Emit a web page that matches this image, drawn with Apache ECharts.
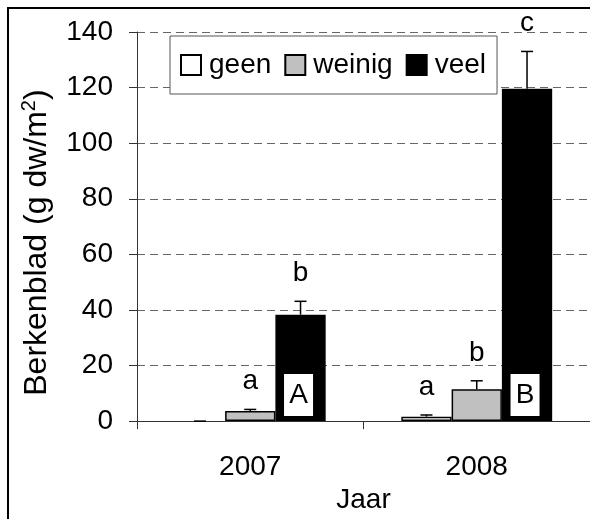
<!DOCTYPE html>
<html>
<head>
<meta charset="utf-8">
<script src="https://cdn.jsdelivr.net/npm/echarts@6/dist/echarts.min.js"></script>
<style>
  html, body { margin: 0; padding: 0; background: #fff; }
  #chart { width: 590px; height: 519px; }
</style>
</head>
<body>
<div id="chart"></div>
<script>
// data
const years = ['2007', '2008'];
const seriesNames = ['geen', 'weinig', 'veel'];
const geen = [0, 1.6];
const weinig = [3.6, 11.5];
const veel = [38.3, 119.6];
const geenErr = [0, 0.6];
const weinigErr = [0.6, 3.0];
const veelErr = [4.8, 13.4];
const geenLetters = ['', 'a'];
const weinigLetters = ['a', 'b'];
const veelLetters = ['b', 'c'];
const yearLetters = ['A', 'B'];
const yTicks = [0, 20, 40, 60, 80, 100, 120, 140];

const FONT = 'Liberation Sans';
const FS = 28;
const BAR_FRAC = 0.222;

const values = [geen, weinig, veel];
const errs = [geenErr, weinigErr, veelErr];
const letters = [geenLetters, weinigLetters, veelLetters];
const barColors = ['#ffffff', '#c0c0c0', '#000000'];

const chart = echarts.init(document.getElementById('chart'));

// error bars + significance letters, drawn on top of the bars
const errSeries = (s) => ({
    type: 'custom',
    z: 5,
    silent: true,
    data: years.map((y, i) => [i, values[s][i], errs[s][i]]),
    renderItem: (params, api) => {
        const i = api.value(0);
        const v = api.value(1);
        const e = api.value(2);
        const band = api.size([1, 0])[0];
        const bw = band * BAR_FRAC;
        const base = api.coord([i, 0]);
        const top = api.coord([i, v + e]);
        const x = base[0] + (s - 1) * bw;
        const y0 = api.coord([i, v])[1];
        const children = [
            { type: 'line', shape: { x1: x, y1: y0, x2: x, y2: top[1] }, style: { stroke: '#000', lineWidth: 1.5 } },
            { type: 'line', shape: { x1: x - 6, y1: top[1], x2: x + 6, y2: top[1] }, style: { stroke: '#000', lineWidth: 1.5 } },
            {
                type: 'text',
                style: {
                    text: letters[s][params.dataIndex], x: x, y: top[1] - 28,
                    align: 'center', verticalAlign: 'middle',
                    font: FS + 'px "' + FONT + '"', fill: '#000'
                }
            }
        ];
        if (s === 2) {
            children.push({
                type: 'rect',
                shape: { x: x - 16.5, y: base[1] - 47, width: 29, height: 42 },
                style: { fill: '#fff', stroke: null }
            });
            children.push({
                type: 'text',
                style: {
                    text: yearLetters[params.dataIndex], x: x - 2, y: base[1] - 26,
                    align: 'center', verticalAlign: 'middle',
                    font: FS + 'px "' + FONT + '"', fill: '#000'
                }
            });
        }
        return { type: 'group', children: children };
    }
});

chart.setOption({
    animation: false,
    textStyle: { fontFamily: FONT },
    graphic: [{
        type: 'rect',
        shape: { x: 8, y: 8, width: 700, height: 600 },
        style: { fill: null, stroke: '#000', lineWidth: 2 },
        z: 100
    }],
    legend: {
        data: seriesNames,
        left: 170,
        top: 36,
        padding: [15, 11, 15, 10],
        itemGap: 13,
        itemWidth: 20,
        itemHeight: 20,
        borderColor: '#555',
        borderWidth: 1,
        backgroundColor: '#fff',
        textStyle: { fontSize: FS, color: '#000', padding: [0, 0, 0, 3] },
        icon: 'rect'
    },
    grid: {
        left: 137,
        top: 32,
        width: 460,
        bottom: 97
    },
    xAxis: {
        type: 'category',
        data: years,
        name: 'Jaar',
        nameLocation: 'middle',
        nameGap: 64,
        nameTextStyle: { fontSize: FS, color: '#000' },
        axisLine: { lineStyle: { color: '#333', width: 1 } },
        axisTick: { show: true, length: 8, lineStyle: { color: '#333' } },
        axisLabel: { fontSize: FS, color: '#000', margin: 32 },
        splitLine: { show: false }
    },
    yAxis: {
        type: 'value',
        min: yTicks[0],
        max: yTicks[yTicks.length - 1],
        interval: 20,
        name: '{n|Berkenblad (g dw/m}{s|2}{n|)}',
        nameLocation: 'middle',
        nameGap: 82,
        nameTextStyle: {
            padding: [0, 32, 0, 0],
            rich: {
                n: { fontSize: 32, color: '#000', fontFamily: FONT, lineHeight: 36 },
                s: { fontSize: 20, color: '#000', fontFamily: FONT, verticalAlign: 'top', lineHeight: 36 }
            }
        },
        axisLine: { show: true, lineStyle: { color: '#333', width: 1 } },
        axisTick: { show: true, length: 8, lineStyle: { color: '#333' } },
        axisLabel: { fontSize: FS, color: '#000', margin: 24 },
        splitLine: { show: true, lineStyle: { color: '#666', type: [8, 5], width: 1 } }
    },
    series: seriesNames.map((n, s) => ({
        name: n,
        type: 'bar',
        // a zero bar gets no outline, as in the original
        data: values[s].map(v => ({ value: v, itemStyle: { borderWidth: v === 0 ? 0 : 1.5 } })),
        barWidth: (BAR_FRAC * 100) + '%',
        barGap: '0%',
        itemStyle: { color: barColors[s], borderColor: '#000', borderWidth: 1.5 }
    })).concat([0, 1, 2].map(errSeries))
});
</script>
</body>
</html>
